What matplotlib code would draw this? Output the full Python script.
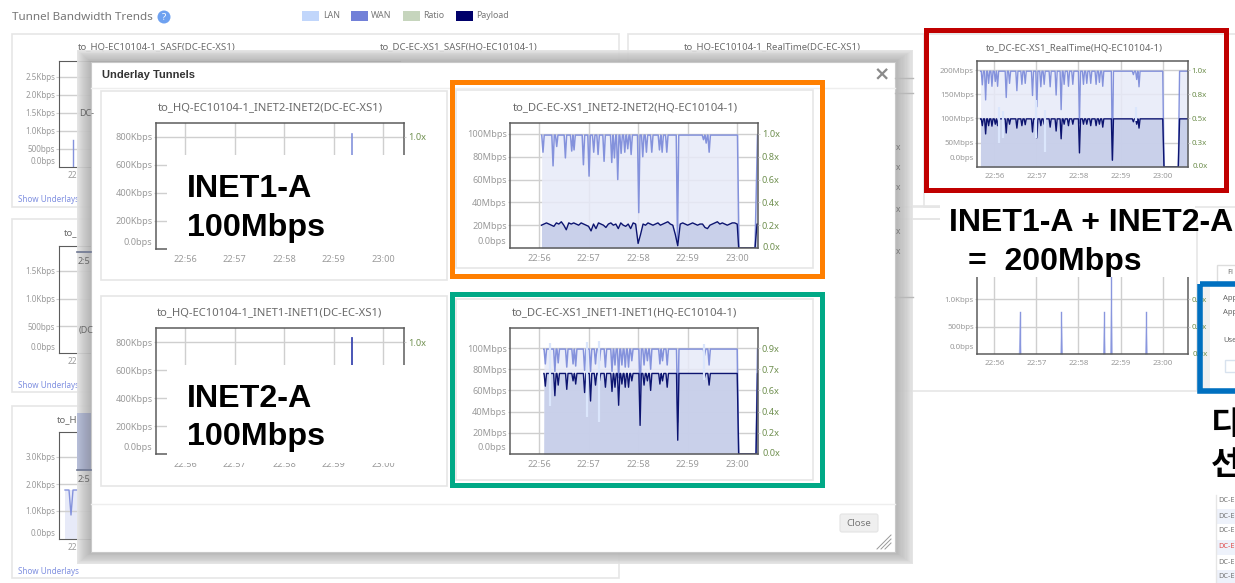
import numpy as np
import matplotlib
matplotlib.use("Agg")
import matplotlib.pyplot as plt
from matplotlib.patches import Rectangle, Circle, FancyBboxPatch

W, H = 1235, 583
plt.rcParams['font.family'] = ['Noto Sans', 'DejaVu Sans']

TIME_LABELS = ["22:56", "22:57", "22:58", "22:59", "23:00"]
TIME_TICKS = [0, 1, 2, 3, 4]

LEGEND_NAMES = ["LAN", "WAN", "Ratio", "Payload"]
LEGEND_COLORS = ["#c1d6fb", "#7280d8", "#c6d5bd", "#00006a"]

# orange chart, INET2-INET2, minutes after 22:56 and Mbps
INET2_WAN_T = [0.080, 0.283, 0.357, 0.532, 0.660, 0.707, 0.896, 1.010, 1.104, 1.192, 1.313, 1.468, 1.522, 1.589,
               1.657, 1.731, 1.791, 1.859, 2.013, 2.094, 2.168, 2.276, 2.431, 2.485, 2.579, 2.795, 3.320, 3.374, 3.434]
INET2_WAN_V = [84, 72, 89, 79, 85, 86, 73, 63, 84, 82, 76, 75, 79, 60,
               83, 84, 87, 82, 31, 80, 84, 84, 86, 84, 84, 5, 95, 92, 84]
INET2_PAYLOAD = [20, 21, 22, 21, 20, 19, 22, 21, 23, 20, 16, 22, 21, 22, 21, 20, 22, 21, 20, 19,
                 15, 21, 17, 22, 21, 20, 18, 21, 22, 20, 21, 17, 22, 20, 19, 21, 17, 22, 21, 4,
                 12, 21, 20, 22, 21, 20, 21, 22, 20, 21, 22, 23, 21, 20, 12, 2, 21, 22, 21, 20,
                 21, 22, 21, 20, 21, 21, 18, 17, 20, 21, 22, 23, 21, 22, 21, 20, 21, 22, 22, 21]

# green chart, INET1-INET1
INET1_T = [0.127, 0.320, 0.387, 0.560, 0.687, 0.740, 0.920, 1.040, 1.140, 1.220, 1.340, 1.473, 1.533, 1.607,
           1.673, 1.740, 1.807, 1.873, 2.040, 2.120, 2.187, 2.253, 2.440, 2.493, 2.587, 2.800, 3.340, 3.433]
INET1_WAN_V = [85, 78, 86, 82, 85, 83, 79, 78, 85, 88, 82, 78, 84, 72,
               84, 82, 82, 88, 55, 84, 88, 80, 85, 88, 84, 30, 93, 84]
INET1_PAYLOAD_V = [64, 55, 65, 61, 69, 66, 58, 50, 65, 69, 63, 59, 63, 46,
                   66, 63, 63, 69, 27, 65, 69, 60, 66, 69, 63, 13, 72, 65]
INET1_LAN_T = [0.227, 0.973, 1.220, 3.340]
INET1_LAN_HI = [105, 106, 107, 104]
INET1_LAN_LO = [45, 35, 30, 70]

# red chart, RealTime
REAL_T = [-0.284, -0.205, -0.134, -0.055, 0.024, 0.079, 0.284, 0.363, 0.537, 0.656, 0.735, 0.908, 1.011, 1.106,
          1.185, 1.327, 1.469, 1.588, 1.659, 1.762, 1.865, 2.023, 2.118, 2.197, 2.291, 2.418, 2.497, 2.576,
          2.805, 3.303, 3.382, 3.437]
REAL_WAN_V = [169, 138, 172, 166, 176, 166, 143, 172, 157, 170, 172, 147, 124, 165,
              170, 165, 148, 118, 170, 166, 170, 90, 170, 172, 172, 170, 174, 166,
              14, 190, 180, 165]
REAL_PAYLOAD_V = [85, 68, 85, 84, 88, 85, 70, 88, 80, 85, 87, 72, 60, 85,
                  88, 82, 74, 58, 88, 85, 88, 29, 88, 88, 85, 85, 88, 82,
                  14, 93, 88, 80]
REAL_LAN_T = [0.110, 0.210, 0.990, 1.210, 3.360]
REAL_LAN_HI = [124, 115, 138, 118, 124]
REAL_LAN_LO = [50, 60, 60, 30, 95]

# small spikes on the other charts
SPIKE_BOTTOM_T = [0.60, 1.59, 2.60, 2.77, 3.60]
SPIKE_BOTTOM_V = [760, 760, 760, 1400, 760]
TABLE_ROWS = ["DC-E", "DC-E", "DC-E", "DC-E", "DC-E", "DC-E"]

WAN_LINE = "#8492dc"
WAN_FILL = "#e7eaf8"
PAY_LINE = "#0c1470"
PAY_FILL = "#c6cde9"
GRID = "#cfcfcf"
TICK_TXT = "#9a9a9a"
TITLE_TXT = "#6a6a6a"
RATIO_TXT = "#6f8f4f"
SPINE = "#5c5c5c"

fig = plt.figure(figsize=(W / 100, H / 100), dpi=100)


def layer(z):
    ax = fig.add_axes([0, 0, 1, 1], zorder=z)
    ax.set_xlim(0, W)
    ax.set_ylim(H, 0)
    ax.axis("off")
    return ax


def px_axes(l, t, r, b, z=3):
    ax = fig.add_axes([l / W, 1 - b / H, (r - l) / W, (b - t) / H], zorder=z)
    ax.set_facecolor("none")
    return ax


def with_dips(base, start, end, times, values, restart=None, right=None):
    # flat line at base, one sharp dip per entry, then a drop to zero
    t, v = [start - 0.005, start], [0, base]
    for a, b in zip(times, values):
        t += [a - 0.025, a, a + 0.025]
        v += [base, b, base]
    t += [end, end + 0.03]
    v += [base, 0]
    if restart is not None:
        t += [restart[0], restart[1], right]
        v += [0, base, base]
    return t, v


def chart(l, t, r, b, x0, x1, ymax, yticks, ylabels, rlabels, fs=6.6, zero_off=5):
    ax = px_axes(l, t, r, b)
    ax.set_xlim(x0, x1)
    ax.set_ylim(0, ymax)
    ax.set_xticks(TIME_TICKS)
    ax.set_xticklabels(TIME_LABELS, fontsize=fs, color=TICK_TXT)
    ax.set_yticks(yticks)
    ax.set_yticklabels(ylabels, fontsize=fs, color=TICK_TXT)
    ax.tick_params(axis="x", length=0, pad=4)
    ax.tick_params(axis="y", length=1.5, color=GRID, pad=0.8)
    ax.grid(True, color=GRID, lw=1)
    ax.set_axisbelow(True)
    for s in ax.spines.values():
        s.set_color(SPINE)
        s.set_linewidth(1.1)
    ax.annotate("0.0bps", xy=(0, 0), xycoords=("axes fraction", "data"), xytext=(-2.5, zero_off),
                textcoords="offset points", ha="right", va="center", fontsize=fs, color=TICK_TXT)
    rax = ax.twinx()
    rax.set_ylim(0, ymax)
    rax.set_yticks(yticks)
    rax.set_yticklabels(rlabels, fontsize=fs, color=RATIO_TXT)
    rax.tick_params(axis="y", length=1.5, color=GRID, pad=1.2)
    for s in rax.spines.values():
        s.set_visible(False)
    return ax


def draw_traffic(ax, wan, pay, wan_lw=1.1):
    ax.fill_between(wan[0], wan[1], color=WAN_FILL, alpha=0.85, lw=0)
    ax.fill_between(pay[0], pay[1], color=PAY_FILL, alpha=0.9, lw=0)
    # the rise at the start of a trace has a fill but no stroke
    ax.plot(wan[0][1:], wan[1][1:], color=WAN_LINE, lw=wan_lw)
    ax.plot(pay[0][1:], pay[1][1:], color=PAY_LINE, lw=1.0)


def frame(ax, l, t, r, b, color, lw=3.6):
    ax.add_patch(Rectangle((l, t), r - l, b - t, fill=False, ec=color, lw=lw))


def card(ax, l, t, r, b):
    ax.add_patch(Rectangle((l, t), r - l, b - t, fc="white", ec="#e6e6e6", lw=1.2))


# ---- page behind the dialog
back = layer(0)
card(back, 12, 34, 619, 207)
card(back, 12, 219, 619, 392)
card(back, 12, 406, 619, 578)
card(back, 628, 34, 1000, 207)
card(back, 628, 219, 1197, 391)
card(back, 924, 34, 1260, 207)

back.text(12, 17, "Tunnel Bandwidth Trends", fontsize=8.4, color="#777777", va="center")
back.add_patch(Circle((164, 17), 6.5, fc="#6ea1f0", ec="none"))
back.text(164, 17, "?", fontsize=7, color="white", ha="center", va="center", fontweight="bold")
for x, tx, name, c in zip([302, 351, 403, 456], [323, 371, 423, 476], LEGEND_NAMES, LEGEND_COLORS):
    back.add_patch(Rectangle((x, 11), 17, 10, fc=c, ec="none"))
    back.text(tx, 16, name, fontsize=6.3, color="#777777", va="center")

for x, label in zip([78, 380, 684], ["to_HQ-EC10104-1_SASF(DC-EC-XS1)", "to_DC-EC-XS1_SASF(HQ-EC10104-1)",
                                     "to_HQ-EC10104-1_RealTime(DC-EC-XS1)"]):
    back.text(x, 47, label, fontsize=6.9, color=TITLE_TXT, va="center")
back.text(64, 233, "to_", fontsize=6.9, color=TITLE_TXT, va="center")
back.text(57, 420, "to_H", fontsize=6.9, color=TITLE_TXT, va="center")
for y in [200, 386, 572]:
    back.text(18, y, "Show Underlays", fontsize=5.8, color="#7f8fe0", va="center")
for y in [206, 219]:
    back.plot([913, 949], [y, y], color="#e6e6e6", lw=1.2)

# left edge charts, only a sliver shows next to the dialog
for t, b, yt, yl in [(61, 167, [18.0, 14.4, 10.8, 7.2, 3.6], ["2.5Kbps", "2.0Kbps", "1.5Kbps", "1.0Kbps", "500bps"]),
                     (246, 353, [16.4, 10.8, 5.4], ["1.5Kbps", "1.0Kbps", "500bps"]),
                     (432, 539, [16.4, 11.0, 5.6], ["3.0Kbps", "2.0Kbps", "1.0Kbps"])]:
    ax = px_axes(59, t, 400, b, z=1)
    ax.set_xlim(0, 341)
    ax.set_ylim(0, (b - t) / 5)
    ax.set_xticks([])
    ax.set_yticks(yt)
    ax.set_yticklabels(yl, fontsize=5.8, color=TICK_TXT)
    ax.tick_params(axis="y", length=2, color=GRID, pad=0.8)
    ax.grid(True, axis="y", color=GRID, lw=1)
    for s in ax.spines.values():
        s.set_color(SPINE)
    ax.annotate("0.0bps", xy=(0, 0), xycoords=("axes fraction", "data"), xytext=(-2.5, 4),
                textcoords="offset points", ha="right", va="center", fontsize=5.8, color=TICK_TXT)
    ax.text(13, -1.8, "22", fontsize=6, color=TICK_TXT, ha="center", va="center")

sliver = fig.axes[-3]
sliver.plot([14, 14], [0, 5.4], color=WAN_LINE, lw=1)
sliver = fig.axes[-1]
sliver.fill_between([6, 18], [9.8, 9.8], color=WAN_FILL, lw=0)
sliver.plot([6, 10, 12, 14, 18], [9.8, 9.8, 4.8, 9.8, 9.8], color=WAN_LINE, lw=1)

# ---- red chart and the one under it
REAL_XLIM = (-0.41, 4.60)
ax = chart(977, 61, 1188, 167, REAL_XLIM[0], REAL_XLIM[1], 218, [50, 100, 150, 199],
           ["50Mbps", "100Mbps", "150Mbps", "200Mbps"], ["0.3x", "0.5x", "0.8x", "1.0x"], fs=5.7, zero_off=6)
draw_traffic(ax, with_dips(197, -0.324, 4.0, REAL_T, REAL_WAN_V, (4.37, 4.40), 4.6),
             with_dips(99, -0.324, 4.0, REAL_T, REAL_PAYLOAD_V, (4.37, 4.40), 4.6), 1.0)
ax.vlines(REAL_LAN_T, REAL_LAN_LO, REAL_LAN_HI, color="#dbe6fc", lw=1.6)
ax.annotate("0.0x", xy=(1, 0), xycoords="axes fraction", xytext=(3, 0), textcoords="offset points",
            va="center", fontsize=5.7, color=RATIO_TXT)
back.text(1074, 48, "to_DC-EC-XS1_RealTime(HQ-EC10104-1)", fontsize=6.9, color=TITLE_TXT, ha="center", va="center")

# ---- right hand panel, mostly off the picture
back.add_patch(Rectangle((1217, 265), 30, 18, fc="white", ec="#dddddd", lw=1))
back.text(1227, 273, "Fl", fontsize=5.5, color="#777777", va="center")
back.add_patch(Rectangle((1199, 284), 50, 107, fc="white", ec="none"))
back.add_patch(Rectangle((1200, 284), 10, 107, fc="#f0f0f0", ec="none"))
for y, s in [(298, "App"), (312, "App"), (340, "Use")]:
    back.text(1223, y, s, fontsize=5.5, color="#666666", va="center")
back.add_patch(Rectangle((1225, 360), 20, 12, fc="white", ec="#d8e2ee", lw=1))
back.plot([1216, 1216], [495, 583], color="#e6e6e6", lw=1)
for i, (y, s) in enumerate(zip([500, 516, 531, 547, 562, 577], TABLE_ROWS)):
    if i in (1, 3, 5):
        back.add_patch(Rectangle((1217, y - 7.5), 20, 15, fc="#eef2fb", ec="none"))
    back.text(1218, y, s, fontsize=5.3, color="#e05050" if i == 3 else "#777777", va="center")

ax = chart(977, 277, 1188, 354, REAL_XLIM[0], REAL_XLIM[1], 1400, [500, 1000], ["500bps", "1.0Kbps"],
           ["0.0x", "0.0x"], fs=5.7, zero_off=4.5)
ax.spines["top"].set_visible(False)
for a, b in zip(SPIKE_BOTTOM_T, SPIKE_BOTTOM_V):
    ax.fill_between([a - 0.03, a, a + 0.03], [0, b, 0], color="#aab4e8", lw=0)
    ax.plot([a, a], [0, b], color="#8996de", lw=1)
ax.annotate("0.0x", xy=(1, 0), xycoords="axes fraction", xytext=(3, 0), textcoords="offset points",
            va="center", fontsize=5.7, color=RATIO_TXT)
back.text(947, 272, "1", fontsize=6, color=TICK_TXT, ha="center", va="center")

# ---- dialog with shadow
modal = layer(2)
modal.add_patch(Rectangle((77, 50), 836, 514, fc="#e6e6e6", ec="none", alpha=0.9))
for x, y, s in [(79, 113, "DC-"), (79, 330, "(DC"), (78, 261, "2:5"), (78, 480, "2:5")]:
    modal.text(x, y, s, fontsize=6.5, color="#666666", va="center")
for y in [147, 167, 188, 210, 232, 252]:
    modal.text(896, y, "x", fontsize=6, color="#777777", va="center")
modal.plot([77, 91], [252, 252], color="#6d7690", lw=1.2)
modal.plot([77, 91], [470, 470], color="#6d7690", lw=1.2)
modal.add_patch(Rectangle((77, 413), 14, 57, fc="#b9c0dc", ec="none"))
for y in [78, 93, 297]:
    modal.plot([895, 913], [y, y], color="#b8b8b8", lw=1)
steps = 14
for i in range(steps):
    f = i / steps
    modal.add_patch(Rectangle((77 + 14 * f, 50 + 12 * f), 836 - 32 * f, 514 - 24 * f,
                              fc="#505050", ec="none", alpha=0.024))
modal.add_patch(Rectangle((91, 62), 804, 490, fc="white", ec="#c8c8c8", lw=0.8))
modal.text(102, 75, "Underlay Tunnels", fontsize=8, color="#333333", va="center", fontweight="bold",
           family="Liberation Sans")
modal.text(882, 75, "×", fontsize=14, color="#8a8a8a", ha="center", va="center", fontweight="bold",
           family="DejaVu Sans")
modal.plot([91, 895], [88, 88], color="#eeeeee", lw=1)
modal.plot([91, 895], [504, 504], color="#eeeeee", lw=1)
card(modal, 101, 91, 447, 280)
card(modal, 101, 296, 447, 486)
card(modal, 456, 90, 813, 268)
card(modal, 456, 299, 813, 480)
modal.add_patch(FancyBboxPatch((840, 514), 38, 18, boxstyle="round,pad=0,rounding_size=2", fc="#efefef", ec="#e4e4e4", lw=0.8))
modal.text(859, 523, "Close", fontsize=7, color="#777777", ha="center", va="center")
for d in (6, 10, 14):
    modal.plot([891 - d, 891], [549, 549 - d], color="#999999", lw=0.7)
modal.text(270, 108, "to_HQ-EC10104-1_INET2-INET2(DC-EC-XS1)", fontsize=8.1, color=TITLE_TXT, ha="center", va="center")
modal.text(625, 108, "to_DC-EC-XS1_INET2-INET2(HQ-EC10104-1)", fontsize=8.1, color=TITLE_TXT, ha="center", va="center")
modal.text(270, 313, "to_HQ-EC10104-1_INET1-INET1(DC-EC-XS1)", fontsize=8.1, color=TITLE_TXT, ha="center", va="center")
modal.text(625, 313, "to_DC-EC-XS1_INET1-INET1(HQ-EC10104-1)", fontsize=8.1, color=TITLE_TXT, ha="center", va="center")

# ---- dialog charts
DIALOG_XLIM = (-0.586, 4.42)
MBPS = [20, 40, 60, 80, 100]
MBPS_L = ["20Mbps", "40Mbps", "60Mbps", "80Mbps", "100Mbps"]
KBPS = [200, 400, 600, 800]
KBPS_L = ["200Kbps", "400Kbps", "600Kbps", "800Kbps"]

ax = chart(510, 123, 758, 248, DIALOG_XLIM[0], DIALOG_XLIM[1], 109.6, MBPS, MBPS_L,
           ["0.2x", "0.4x", "0.6x", "0.8x", "1.0x"])
times = np.linspace(0.05, 4.0, len(INET2_PAYLOAD))
pay_t = [0.05] + list(times) + [4.03, 4.36, 4.40, 4.42]
pay_v = [0] + INET2_PAYLOAD + [0, 0, 21, 21]
draw_traffic(ax, with_dips(99, 0.054, 4.006, INET2_WAN_T, INET2_WAN_V, (4.36, 4.41), 4.42), (pay_t, pay_v))
ax.annotate("0.0x", xy=(1, 0), xycoords="axes fraction", xytext=(3, 0), textcoords="offset points",
            va="center", fontsize=6.6, color=RATIO_TXT)

ax = chart(510, 328, 758, 454, DIALOG_XLIM[0], DIALOG_XLIM[1], 118.9, MBPS, MBPS_L,
           ["0.2x", "0.4x", "0.6x", "0.7x", "0.9x"])
draw_traffic(ax, with_dips(99, 0.10, 4.0, INET1_T, INET1_WAN_V, (4.38, 4.41), 4.42),
             with_dips(76, 0.10, 4.0, INET1_T, INET1_PAYLOAD_V, (4.38, 4.41), 4.42))
ax.vlines(INET1_LAN_T, INET1_LAN_LO, INET1_LAN_HI, color="#dbe6fc", lw=1.6)
ax.annotate("0.0x", xy=(1, 0), xycoords="axes fraction", xytext=(3, 0), textcoords="offset points",
            va="center", fontsize=6.6, color=RATIO_TXT)

ax = chart(156, 123, 404, 249, DIALOG_XLIM[0], DIALOG_XLIM[1], 900, KBPS, KBPS_L, ["", "", "", "1.0x"], zero_off=5)
ax.plot([3.37, 3.37], [0, 820], color=WAN_LINE, lw=1.2)
ax = chart(156, 328, 404, 454, DIALOG_XLIM[0], DIALOG_XLIM[1], 900, KBPS, KBPS_L, ["", "", "", "1.0x"], zero_off=5)
ax.plot([3.37, 3.37], [0, 830], color="#3b48b0", lw=1.3)

# ---- annotation layer on top of everything
top = layer(5)
top.add_patch(Rectangle((167, 155), 270, 97, fc="white", ec="none"))
top.add_patch(Rectangle((167, 365), 270, 98, fc="white", ec="none"))
top.add_patch(Rectangle((940, 200), 255, 77, fc="white", ec="none"))
back_text = dict(fontsize=23.2, fontweight="bold", family="Liberation Sans", color="black", va="center")
top.text(187, 189, "INET1-A", **back_text)
top.text(187, 228, "100Mbps", **back_text)
top.text(187, 399, "INET2-A", **back_text)
top.text(187, 437, "100Mbps", **back_text)
row_text = dict(back_text, fontsize=23.0)
top.text(949, 223, "INET1-A + INET2-A", **row_text)
top.text(968, 262, "=  200Mbps", **row_text)
top.text(1211, 425, "디", fontsize=23, fontweight="bold", family="Noto Sans CJK KR", color="black", va="center")
top.text(1211, 465, "선", fontsize=23, fontweight="bold", family="Noto Sans CJK KR", color="black", va="center")
frame(top, 452, 82, 822, 276, "#ff7f00")
frame(top, 452, 294, 822, 485, "#00a986")
frame(top, 926, 30, 1226, 190, "#c00000")
frame(top, 1200, 284, 1260, 391, "#0070c0", lw=4)

fig.savefig("out.png", dpi=100)
